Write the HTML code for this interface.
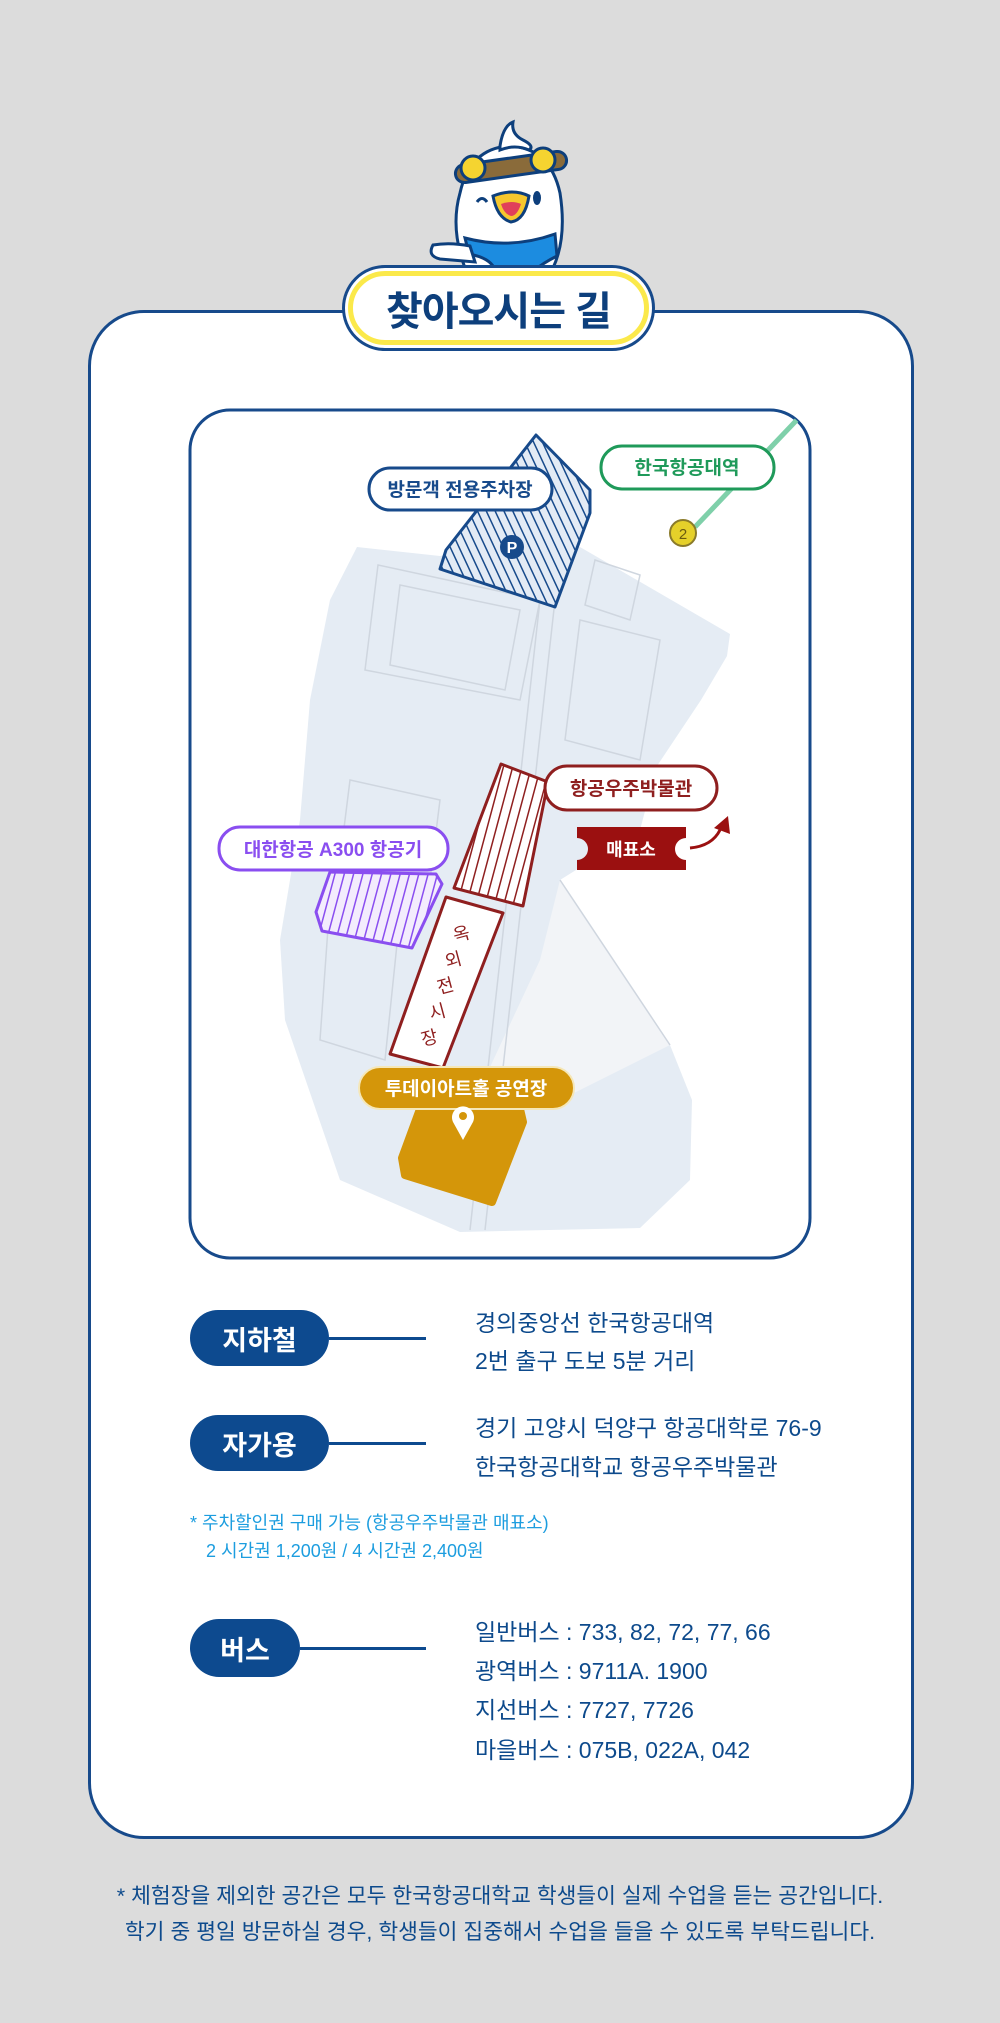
<!DOCTYPE html>
<html><head><meta charset="utf-8">
<style>
html,body{margin:0;padding:0}
body{width:1000px;height:2023px;background:#dcdcdc;position:relative;overflow:hidden;font-family:"Liberation Sans","Noto Sans CJK KR",sans-serif;color:#0d4a8c}
.abs{position:absolute}
.card{left:88px;top:310px;width:820px;height:1523px;background:#fff;border:3px solid #174a8b;border-radius:56px}
.pill{position:absolute;background:#0d4a8f;color:#fff;font-weight:bold;font-size:27px;border-radius:30px;display:flex;align-items:center;justify-content:center}
.ln{position:absolute;height:3px;background:#0d4a8f}
.tx{position:absolute;font-size:23px;color:#0d4a8c;white-space:nowrap;line-height:1}
.note{position:absolute;font-size:18px;color:#1c9ddf;white-space:nowrap;line-height:1}
.foot{position:absolute;width:1000px;left:0;text-align:center;font-size:21.5px;color:#0d4a8c;line-height:1;white-space:nowrap}
</style></head><body>
<div class="abs card"></div>

<!-- mascot -->
<svg class="abs" style="left:425px;top:118px" width="180" height="155" viewBox="0 0 180 155">
  <path d="M40 150 Q25 110 35 75 Q45 30 85 28 Q125 30 135 75 Q142 120 128 150 Z" fill="#fff" stroke="#0d3f7c" stroke-width="3"/>
  <path d="M75 28 Q78 8 88 4 Q86 16 98 22 Q110 28 104 32 Q90 26 75 32 Z" fill="#fff" stroke="#0d3f7c" stroke-width="3"/>
  <rect x="30" y="40" width="112" height="18" rx="9" fill="#8a6b3a" stroke="#0d3f7c" stroke-width="3" transform="rotate(-8 86 49)"/>
  <circle cx="48" cy="50" r="12" fill="#f5d430" stroke="#0d3f7c" stroke-width="3"/>
  <circle cx="118" cy="42" r="12" fill="#f5d430" stroke="#0d3f7c" stroke-width="3"/>
  <path d="M52 84 q5 -7 10 0" fill="none" stroke="#0d3f7c" stroke-width="3"/>
  <ellipse cx="112" cy="80" rx="4" ry="7" fill="#0d3f7c"/>
  <path d="M68 78 Q88 70 104 78 Q100 102 86 104 Q72 100 68 78 Z" fill="#f5c72e" stroke="#0d3f7c" stroke-width="3"/>
  <path d="M76 86 Q87 82 96 86 Q92 98 86 98 Q79 96 76 86Z" fill="#e0405a"/>
  <path d="M40 120 Q85 132 130 116 L132 138 Q118 145 110 152 L70 152 Q66 140 44 136 Z" fill="#1c8ce0" stroke="#0d3f7c" stroke-width="3"/>
  <path d="M45 128 Q25 124 8 127 Q2 138 15 141 L50 144 Z" fill="#fff" stroke="#0d3f7c" stroke-width="3"/>
</svg>

<!-- title pill -->
<div class="abs" style="left:342px;top:265px;width:313px;height:86px;box-sizing:border-box;border:3px solid #174a8b;border-radius:43px;background:#fff;display:flex;align-items:center;justify-content:center">
  <div style="position:absolute;inset:3px;border:5px solid #fbe94a;border-radius:38px"></div>
  <span style="position:relative;font-size:40px;font-weight:bold;color:#0d3f7c;letter-spacing:-1px">찾아오시는 길</span>
</div>

<!-- map -->
<svg class="abs" style="left:0;top:0" width="1000" height="1300" viewBox="0 0 1000 1300">
  <defs>
    <clipPath id="mb"><rect x="190" y="410" width="620" height="848" rx="40"/></clipPath>
    <pattern id="sn" width="8" height="8" patternUnits="userSpaceOnUse" patternTransform="rotate(-25)"><rect width="8" height="8" fill="#e3ebf5"/><rect width="1.5" height="8" fill="#174a8b"/></pattern>
    <pattern id="sr" width="9" height="9" patternUnits="userSpaceOnUse" patternTransform="rotate(15)"><rect width="9" height="9" fill="#fff"/><rect width="1.5" height="9" fill="#8f1f1f"/></pattern>
    <pattern id="sp" width="9" height="9" patternUnits="userSpaceOnUse" patternTransform="rotate(15)"><rect width="9" height="9" fill="#f3ecfd"/><rect width="1.5" height="9" fill="#8a4ef0"/></pattern>
  </defs>
  <rect x="190" y="410" width="620" height="848" rx="40" fill="#fff" stroke="#174a8b" stroke-width="3"/>
  <g clip-path="url(#mb)">
    <line x1="812" y1="404" x2="695" y2="527" stroke="#7fd0aa" stroke-width="5"/>
    <polygon points="357,547 440,556 561,536 730,634 727,656 701,700 657,766 640,830 560,880 670,1045 692,1100 690,1180 640,1228 460,1232 340,1180 285,1020 280,940 300,820 310,700 330,600" fill="#e5ecf4"/>
    <polygon points="560,880 670,1045 560,1100 470,1110 540,960" fill="#f2f4f7"/>
    <g fill="none" stroke="#cfd6df" stroke-width="1.5">
      <polygon points="378,565 540,600 520,700 365,670"/>
      <polygon points="400,585 520,610 505,690 390,665"/>
      <line x1="540" y1="600" x2="470" y2="1230"/>
      <line x1="555" y1="600" x2="485" y2="1230"/>
      <polygon points="580,620 660,640 640,760 565,740"/>
      <polygon points="595,560 640,575 630,620 585,605"/>
      <polygon points="330,900 400,915 385,1060 320,1040"/>
      <polygon points="350,780 440,800 430,880 340,860"/>
      <line x1="560" y1="880" x2="670" y2="1045"/>
    </g>
  </g>
  <!-- parking -->
  <polygon points="536,435 590,490 590,513 555,607 440,569 446,550" fill="url(#sn)" stroke="#174a8b" stroke-width="3" stroke-linejoin="round"/>
  <circle cx="512" cy="547" r="12" fill="#174a8b"/>
  <text x="512" y="553" font-size="16" font-weight="bold" fill="#fff" text-anchor="middle" font-family="Liberation Sans">P</text>
  <rect x="369" y="468" width="183" height="42" rx="21" fill="#fff" stroke="#174a8b" stroke-width="3"/>
  <text x="460" y="496" font-size="19" font-weight="bold" fill="#174a8b" text-anchor="middle" font-family="Liberation Sans,Noto Sans CJK KR,sans-serif">방문객 전용주차장</text>
  <!-- station -->
  <rect x="601" y="446" width="173" height="43" rx="21" fill="#fff" stroke="#1f9a5a" stroke-width="3"/>
  <text x="687" y="474" font-size="19" font-weight="bold" fill="#1f9a5a" text-anchor="middle" font-family="Liberation Sans,Noto Sans CJK KR,sans-serif">한국항공대역</text>
  <circle cx="683" cy="533" r="13" fill="#e5d02a" stroke="#8a7a2a" stroke-width="2"/>
  <text x="683" y="539" font-size="15" fill="#6a5a10" text-anchor="middle" font-family="Liberation Sans">2</text>
  <!-- A300 -->
  <polygon points="330,872 436,874 442,884 412,948 322,931 316,912" fill="url(#sp)" stroke="#8a4ef0" stroke-width="3" stroke-linejoin="round"/>
  <rect x="219" y="827" width="229" height="43" rx="21" fill="#fff" stroke="#8a4ef0" stroke-width="3"/>
  <text x="333" y="856" font-size="19" font-weight="bold" fill="#8a4ef0" text-anchor="middle" font-family="Liberation Sans,Noto Sans CJK KR,sans-serif">대한항공 A300 항공기</text>
  <!-- museum -->
  <polygon points="501,764 548,782 523,906 454,888" fill="url(#sr)" stroke="#8f1f1f" stroke-width="3" stroke-linejoin="round"/>
  <rect x="545" y="766" width="172" height="44" rx="22" fill="#fff" stroke="#8f1f1f" stroke-width="3"/>
  <text x="631" y="795" font-size="19" font-weight="bold" fill="#8f1f1f" text-anchor="middle" font-family="Liberation Sans,Noto Sans CJK KR,sans-serif">항공우주박물관</text>
  <!-- ticket -->
  <path d="M577 827 H686 V838 A11 11 0 0 0 686 860 V870 H577 V860 A11 11 0 0 0 577 838 Z" fill="#9b1010"/>
  <text x="631" y="856" font-size="18" font-weight="bold" fill="#fff" text-anchor="middle" font-family="Liberation Sans,Noto Sans CJK KR,sans-serif">매표소</text>
  <path d="M690 848 Q712 846 720 830" fill="none" stroke="#9b1010" stroke-width="3"/>
  <polygon points="714,828 728,816 730,834" fill="#9b1010"/>
  <!-- outdoor -->
  <polygon points="446,897 503,913 443,1068 390,1054" fill="#fff" stroke="#8f1f1f" stroke-width="3" stroke-linejoin="round"/>
  <g font-size="18" fill="#8f1f1f" font-family="Liberation Sans,Noto Sans CJK KR,sans-serif" text-anchor="middle">
    <text transform="translate(463,940) rotate(-15)">옥</text>
    <text transform="translate(455,966) rotate(-15)">외</text>
    <text transform="translate(447,992) rotate(-15)">전</text>
    <text transform="translate(439,1018) rotate(-15)">시</text>
    <text transform="translate(431,1044) rotate(-15)">장</text>
  </g>
  <!-- art hall -->
  <polygon points="420,1109 520,1109 523,1122 492,1202 405,1175 402,1158" fill="#d4960a" stroke="#d4960a" stroke-width="8" stroke-linejoin="round"/>
  <rect x="359" y="1067" width="215" height="42" rx="21" fill="#d4960a" stroke="#f5e7b8" stroke-width="2"/>
  <text x="466" y="1095" font-size="19" font-weight="bold" fill="#fff" text-anchor="middle" font-family="Liberation Sans,Noto Sans CJK KR,sans-serif">투데이아트홀 공연장</text>
  <path d="M463 1140 L453 1122 A11 11 0 1 1 473 1122 Z" fill="#fff"/>
  <circle cx="463" cy="1116" r="4" fill="#d4960a"/>
</svg>

<!-- info -->
<div class="pill" style="left:190px;top:1310px;width:139px;height:56px">지하철</div>
<div class="ln" style="left:329px;top:1337px;width:97px"></div>
<div class="tx" style="left:475px;top:1312px">경의중앙선 한국항공대역</div>
<div class="tx" style="left:475px;top:1350px">2번 출구 도보 5분 거리</div>

<div class="pill" style="left:190px;top:1415px;width:139px;height:56px">자가용</div>
<div class="ln" style="left:329px;top:1442px;width:97px"></div>
<div class="tx" style="left:475px;top:1417px">경기 고양시 덕양구 항공대학로 76-9</div>
<div class="tx" style="left:475px;top:1456px">한국항공대학교 항공우주박물관</div>

<div class="note" style="left:190px;top:1514px">* 주차할인권 구매 가능 (항공우주박물관 매표소)</div>
<div class="note" style="left:206px;top:1542px">2 시간권 1,200원 /  4 시간권 2,400원</div>

<div class="pill" style="left:190px;top:1619px;width:110px;height:58px">버스</div>
<div class="ln" style="left:300px;top:1647px;width:126px"></div>
<div class="tx" style="left:475px;top:1621px">일반버스 : 733, 82, 72, 77, 66</div>
<div class="tx" style="left:475px;top:1660px">광역버스 : 9711A. 1900</div>
<div class="tx" style="left:475px;top:1699px">지선버스 : 7727, 7726</div>
<div class="tx" style="left:475px;top:1739px">마을버스 : 075B, 022A, 042</div>

<div class="foot" style="top:1886px">* 체험장을 제외한 공간은 모두 한국항공대학교 학생들이 실제 수업을 듣는 공간입니다.</div>
<div class="foot" style="top:1922px">학기 중 평일 방문하실 경우, 학생들이 집중해서 수업을 들을 수 있도록 부탁드립니다.</div>
</body></html>
